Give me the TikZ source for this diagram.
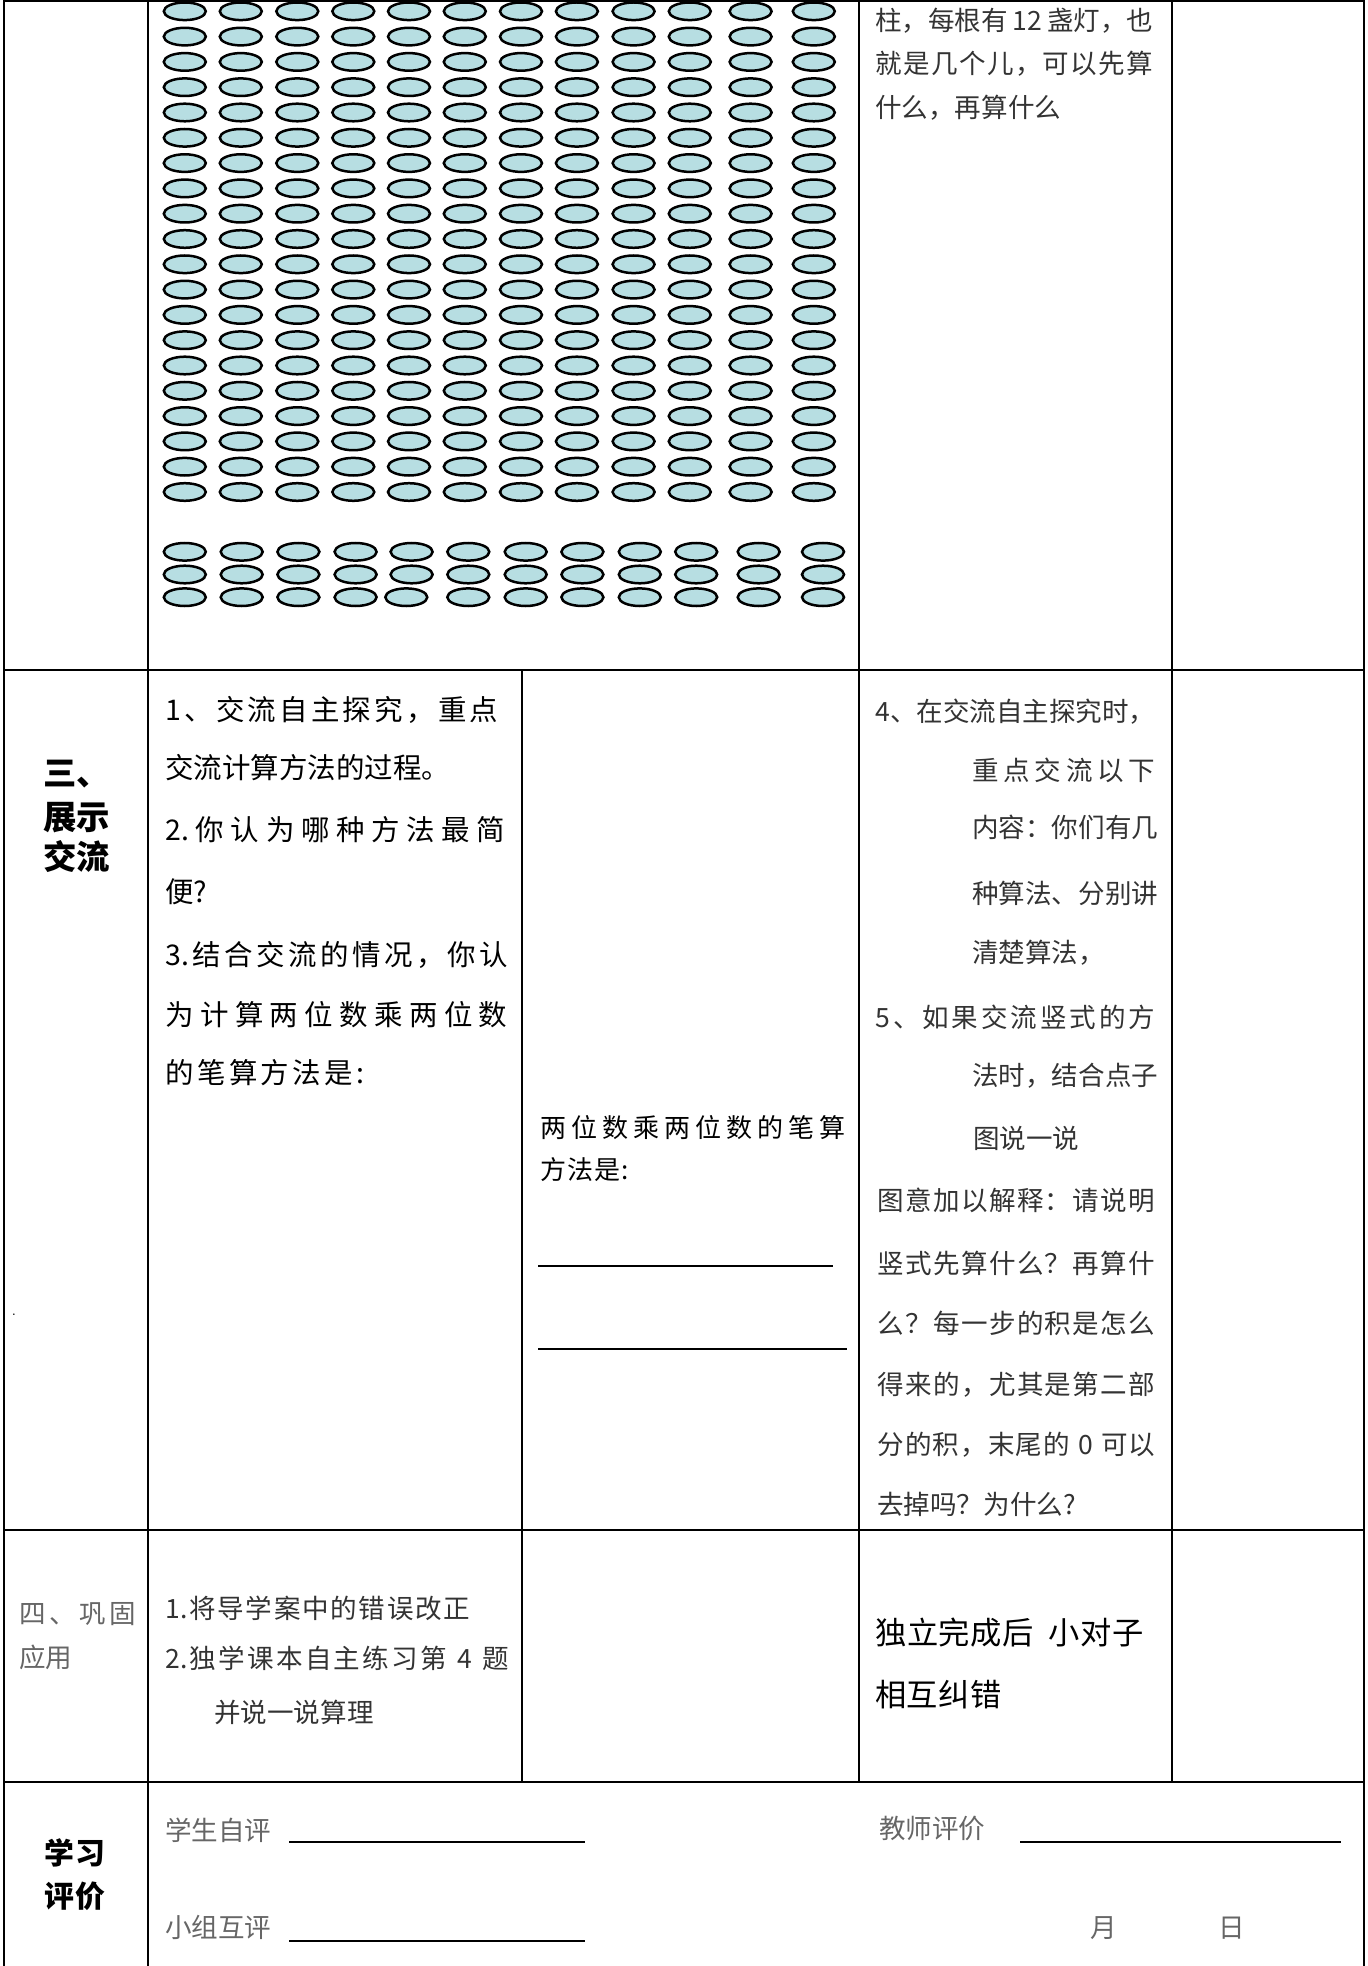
\documentclass[tikz,border=0pt]{standalone}
\usepackage{xcolor}
\usepackage{tikz}
\usepackage{fontspec}
\newfontfamily\cjk{Noto Sans CJK SC}
\definecolor{lampfill}{RGB}{183,222,226}
\newdimen\pxunit
\pxunit=0.2mm
\let\spreadend\relax
\def\spreadmark{\spreadend}
\def\spreadfirst#1{#1\spreadloop}
\def\spreadloop#1{\def\spreadtmp{#1}\ifx\spreadtmp\spreadmark\else\hfil#1\expandafter\spreadloop\fi}
\newcommand\spreadto[2]{\hbox to #1\pxunit{\spreadfirst#2\spreadend}}
\tikzset{
  song/.style={anchor=west, inner sep=0pt, text=black!80, font=\cjk\fontsize{15.1pt}{18pt}\selectfont, text height=13.3pt, text depth=1.8pt},
  songgrey/.style={song, text=black!60},
  kai/.style={anchor=west, inner sep=0pt, text=black, font=\cjk\fontsize{16.2pt}{19pt}\selectfont, text height=14.3pt, text depth=1.9pt},
  kaismall/.style={kai, font=\cjk\fontsize{14.8pt}{18pt}\selectfont, text height=13pt, text depth=1.8pt},
  kaibig/.style={kai, font=\cjk\fontsize{17.8pt}{21pt}\selectfont, text height=15.7pt, text depth=2.1pt},
  heading/.style={kai, font=\cjk\bfseries\fontsize{19pt}{23pt}\selectfont, text height=16.7pt, text depth=2.3pt},
  headsmall/.style={heading, font=\cjk\bfseries\fontsize{17pt}{21pt}\selectfont, text height=15pt, text depth=2pt},
  lamp/.style={fill=lampfill, draw=black, line width=0.5mm}
}

\begin{document}
\begin{tikzpicture}[x=0.2mm,y=-0.2mm]
    \useasboundingbox (0,0) rectangle (1367,1966);

    % lamps
    \foreach \x in {184.8,240.8,297.3,353.3,409,464.8,521,576.9,633.6,689.8,750.6,813.8} {
      \foreach \i in {0,...,19} {
        \draw[lamp] (\x, {11.3+25.3*\i}) ellipse [x radius=21, y radius=8.8];
      }
    }
    \foreach \x in {184.8,241.7,298.4,355.6,411.6,468.3,525.7,582.4,639.8,696.2,758.7,823} {
      \draw[lamp] (\x, 551.8) ellipse [x radius=21, y radius=8.8];
      \draw[lamp] (\x, 574.5) ellipse [x radius=21, y radius=8.8];
    }
    \foreach \x in {184.8,241.7,298.4,355.6,406.3,468.3,525.7,582.4,639.8,696.2,758.7,823} {
      \draw[lamp] (\x, 597.2) ellipse [x radius=21, y radius=8.8];
    }

    % table
    \draw [-,line width=0.4mm] (4, 1.5)--(1364, 1.5);
    \draw [-,line width=0.4mm] (4, 670)--(1364, 670);
    \draw [-,line width=0.4mm] (4, 1530)--(1364, 1530);
    \draw [-,line width=0.4mm] (4, 1782)--(1364, 1782);
    \draw [-,line width=0.4mm] (4, 0)--(4, 1966);
    \draw [-,line width=0.4mm] (148, 0)--(148, 1966);
    \draw [-,line width=0.4mm] (522, 670)--(522, 1782);
    \draw [-,line width=0.4mm] (859, 0)--(859, 1782);
    \draw [-,line width=0.4mm] (1172, 0)--(1172, 1782);
    \draw [-,line width=0.4mm] (1364, 0)--(1364, 1966);

    \node[song] at (875, 20) (topa) {\spreadto{278}{柱，每根有~{12}~盏灯，也}};
    \node[song] at (875, 63) (topb) {\spreadto{278}{就是几个儿，可以先算}};
    \node[song] at (875, 107) (topc) {什么，再算什么};

    \node[heading] at (43, 773) (secthreea) {三、};
    \node[heading] at (43, 817) (secthreeb) {\spreadto{67}{展示}};
    \node[heading] at (43, 857) (secthreec) {\spreadto{67}{交流}};

    \node[kai] at (165, 710) (talka) {\spreadto{333}{1、交流自主探究，重点}};
    \node[kai] at (165, 768) (talkb) {交流计算方法的过程。};
    \node[kai] at (165, 830) (talkc) {\spreadto{340}{{2.}你认为哪种方法最简}};
    \node[kai] at (165, 892) (talkd) {便?};
    \node[kai] at (165, 955) (talke) {\spreadto{343}{{3.}结合交流的情况，你认}};
    \node[kai] at (165, 1015) (talkf) {\spreadto{342}{为计算两位数乘两位数}};
    \node[kai] at (165, 1073) (talkg) {\spreadto{199}{的笔算方法是:}};

    \node[kaismall] at (540, 1128) (methoda) {\spreadto{305}{两位数乘两位数的笔算}};
    \node[kaismall] at (540, 1170) (methodb) {\spreadto{88}{方法是:}};
    \draw [-,line width=0.4mm] (538, 1266)--(833, 1266);
    \draw [-,line width=0.4mm] (538, 1349)--(847, 1349);

    \node[song] at (875, 711) (notea) {\spreadto{280}{4、在交流自主探究时，}};
    \node[song] at (972, 770) (noteb) {\spreadto{183}{重点交流以下}};
    \node[song] at (972, 827) (notec) {\spreadto{183}{内容：你们有几}};
    \node[song] at (972, 893) (noted) {\spreadto{183}{种算法、分别讲}};
    \node[song] at (972, 952) (notee) {清楚算法，};
    \node[song] at (875, 1017) (notef) {\spreadto{280}{5、如果交流竖式的方}};
    \node[song] at (972, 1075) (noteg) {\spreadto{183}{法时，结合点子}};
    \node[song] at (973, 1138) (noteh) {图说一说};
    \node[song] at (877, 1200) (notei) {\spreadto{278}{图意加以解释：请说明}};
    \node[song] at (877, 1263) (notej) {\spreadto{278}{竖式先算什么？再算什}};
    \node[song] at (877, 1323) (notek) {\spreadto{278}{么？每一步的积是怎么}};
    \node[song] at (877, 1384) (notel) {\spreadto{278}{得来的，尤其是第二部}};
    \node[song] at (877, 1444) (notem) {\spreadto{278}{分的积，末尾的~0~可以}};
    \node[song] at (877, 1504) (noten) {去掉吗？为什么?};
    \node[inner sep=0pt, font=\fontsize{8pt}{8pt}\selectfont, anchor=base] at (14, 1315) (stray) {.};

    \node[songgrey] at (19, 1613) (secfoura) {\spreadto{117}{四、巩固}};
    \node[songgrey] at (19, 1657) (secfourb) {应用};
    \node[song] at (165, 1608) (taska) {\spreadto{305}{{1.}将导学案中的错误改正}};
    \node[song] at (165, 1658) (taskb) {\spreadto{344}{{2.}独学课本自主练习第~4~题}};
    \node[song] at (214, 1712) (taskc) {并说一说算理};
    \node[kaibig] at (875, 1633) (pairsa) {\spreadto{268}{独立完成后~~小对子}};
    \node[kaibig] at (875, 1695) (pairsb) {\spreadto{126}{相互纠错}};

    \node[headsmall] at (44, 1853) (evala) {\spreadto{61}{学习}};
    \node[headsmall] at (44, 1896) (evalb) {\spreadto{61}{评价}};
    \node[songgrey] at (165, 1830) (self) {学生自评};
    \draw [-,line width=0.55mm] (289, 1842)--(585, 1842);
    \node[songgrey] at (165, 1927) (group) {小组互评};
    \draw [-,line width=0.55mm] (289, 1941)--(585, 1941);
    \node[songgrey] at (879, 1828) (teacher) {教师评价};
    \draw [-,line width=0.55mm] (1020, 1842)--(1341, 1842);
    \node[songgrey, anchor=center] at (1104, 1927) (month) {月};
    \node[songgrey, anchor=center] at (1232, 1927) (day) {日};
\end{tikzpicture}
\end{document}
